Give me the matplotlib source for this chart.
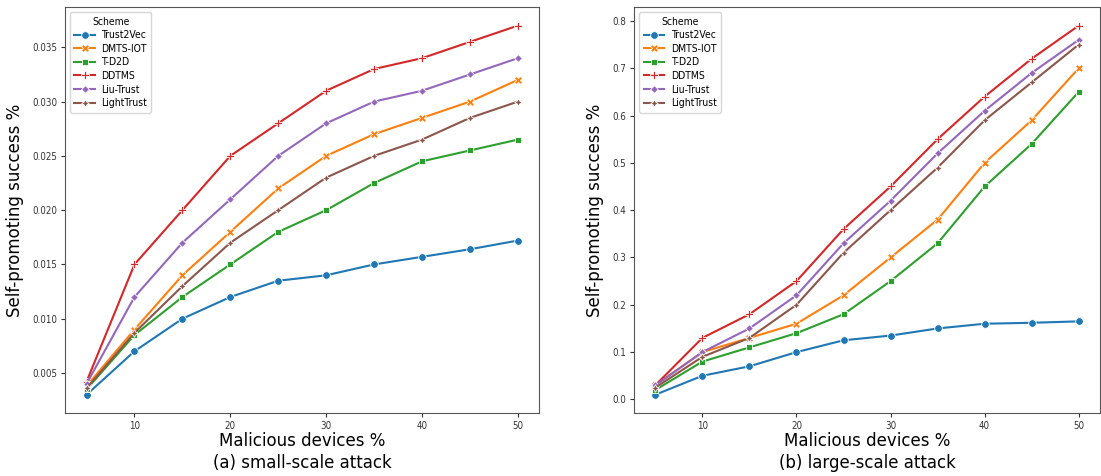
import matplotlib
matplotlib.use("Agg")
import matplotlib.pyplot as plt
from matplotlib import font_manager

x = [5, 10, 15, 20, 25, 30, 35, 40, 45, 50]
schemes = ["Trust2Vec", "DMTS-IOT", "T-D2D", "DDTMS", "Liu-Trust", "LightTrust"]

small_trust2vec = [0.003, 0.007, 0.010, 0.012, 0.0135, 0.014, 0.015, 0.0157, 0.0164, 0.0172]
small_dmts = [0.0038, 0.009, 0.014, 0.018, 0.022, 0.025, 0.027, 0.0285, 0.030, 0.032]
small_td2d = [0.0035, 0.0085, 0.012, 0.015, 0.018, 0.020, 0.0225, 0.0245, 0.0255, 0.0265]
small_ddtms = [0.0042, 0.015, 0.020, 0.025, 0.028, 0.031, 0.033, 0.034, 0.0355, 0.037]
small_liu = [0.004, 0.012, 0.017, 0.021, 0.025, 0.028, 0.030, 0.031, 0.0325, 0.034]
small_light = [0.0036, 0.0087, 0.013, 0.017, 0.020, 0.023, 0.025, 0.0265, 0.0285, 0.030]

large_trust2vec = [0.01, 0.05, 0.07, 0.10, 0.125, 0.135, 0.15, 0.16, 0.162, 0.165]
large_dmts = [0.03, 0.10, 0.13, 0.16, 0.22, 0.30, 0.38, 0.50, 0.59, 0.70]
large_td2d = [0.02, 0.08, 0.11, 0.14, 0.18, 0.25, 0.33, 0.45, 0.54, 0.65]
large_ddtms = [0.03, 0.13, 0.18, 0.25, 0.36, 0.45, 0.55, 0.64, 0.72, 0.79]
large_liu = [0.03, 0.10, 0.15, 0.22, 0.33, 0.42, 0.52, 0.61, 0.69, 0.76]
large_light = [0.025, 0.09, 0.13, 0.20, 0.31, 0.40, 0.49, 0.59, 0.67, 0.75]

small = [small_trust2vec, small_dmts, small_td2d, small_ddtms, small_liu, small_light]
large = [large_trust2vec, large_dmts, large_td2d, large_ddtms, large_liu, large_light]

colors = ["#1f77b4", "#ff7f0e", "#2ca02c", "#d62728", "#9467bd", "#8c564b"]
markers = ["o", "X", (4, 0, 45), "P", (4, 0, 0), (4, 1, 0)]

# narrow font for ticks / legend if available
names = {f.name for f in font_manager.fontManager.ttflist}
has_cond = any(f.name == "DejaVu Sans" and f.stretch == "condensed"
               for f in font_manager.fontManager.ttflist)
if "Liberation Sans Narrow" in names:
    small_font = dict(family="Liberation Sans Narrow")
elif has_cond:
    small_font = dict(family="DejaVu Sans", stretch="condensed")
else:
    small_font = dict(family="DejaVu Sans")

fig = plt.figure(figsize=(11.01, 4.76), dpi=100)
ax1 = fig.add_axes([0.059, 0.132, 0.431, 0.853])
ax2 = fig.add_axes([0.576, 0.132, 0.423, 0.853])

for ax, data, sub, ylx in [(ax1, small, "(a) small-scale attack", -0.087),
                           (ax2, large, "(b) large-scale attack", -0.064)]:
    for name, vals, c, m in zip(schemes, data, colors, markers):
        ax.plot(x, vals, color=c, marker=m, markersize=5.5, markeredgecolor="white",
                markeredgewidth=0.6, linewidth=1.5, label=name)
    ax.set_xticks([10, 20, 30, 40, 50])
    ax.tick_params(colors="#333333", length=3, pad=2.5)
    for lbl in ax.get_xticklabels() + ax.get_yticklabels():
        lbl.set_fontproperties(font_manager.FontProperties(size=7, **small_font))
    for s in ax.spines.values():
        s.set_color("#555555")
    ax.set_ylabel("Self-promoting success %", fontsize=12)
    ax.yaxis.set_label_coords(ylx, 0.5)
    ax.set_xlabel("Malicious devices %\n" + sub, fontsize=12, linespacing=1.25)
    ax.xaxis.set_label_coords(0.5, -0.047)
    leg = ax.legend(title="Scheme", loc="upper left",
                    prop=font_manager.FontProperties(size=7.5, **small_font),
                    title_fontproperties=font_manager.FontProperties(size=7.5, **small_font),
                    handlelength=2.0, handletextpad=0.6, borderpad=0.4, labelspacing=0.35)

fig.savefig("out.png", dpi=100)
